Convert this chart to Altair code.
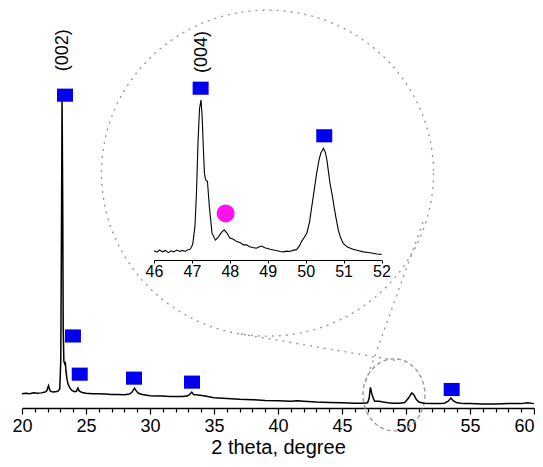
import altair as alt
import pandas as pd

FONT = "Liberation Sans"
BLUE = "#0000ee"
MAGENTA = "#ff10ee"
GREY = "#9a9a9a"

# ---------------- main XRD pattern (2theta, intensity a.u.) ----------------
main_deg = [20.0, 20.3, 20.6, 20.9, 21.2, 21.5, 21.8, 21.95, 22.07, 22.2, 22.4, 22.6, 22.8,
            22.95, 23.03, 23.08, 23.13, 23.18, 23.22, 23.27, 23.33, 23.38, 23.43, 23.5, 23.6,
            23.75, 23.9, 24.1, 24.25, 24.37, 24.48, 24.7, 25.0, 25.5, 26.0, 26.5, 27.0, 27.5,
            28.0, 28.4, 28.6, 28.79, 28.95, 29.1, 29.4, 30.0, 30.5, 31.0, 31.5, 32.0, 32.5,
            32.9, 33.1, 33.26, 33.4, 33.6, 33.9, 34.2, 34.5, 35.0, 36.0, 37.0, 38.0, 39.0,
            40.0, 41.0, 41.5, 42.0, 43.0, 44.0, 45.0, 46.0, 46.7, 47.0, 47.12, 47.22, 47.3,
            47.4, 47.55, 47.9, 48.2, 48.6, 49.0, 49.5, 49.9, 50.2, 50.45, 50.6, 50.8, 51.0,
            51.4, 52.0, 52.6, 53.0, 53.3, 53.5, 53.7, 54.0, 54.5, 55.0, 56.0, 57.0, 58.0,
            59.0, 59.5, 60.0]
main_int = [36, 37, 36, 38, 37, 38, 40, 44, 56, 43, 40, 41, 42,
            48, 120, 420, 776, 520, 200, 118, 112, 116, 95, 75, 60,
            50, 44, 41, 42, 50, 42, 39, 37, 36, 36, 35, 34, 34,
            33, 35, 40, 50, 42, 37, 34, 31, 30, 30, 29, 29, 29,
            30, 34, 40, 34, 33, 32, 31, 29, 26, 24, 22, 21, 19,
            18, 17, 18, 17, 15, 14, 13, 12, 12, 13, 25, 52, 40,
            28, 17, 17, 15, 13, 12, 12, 14, 25, 38, 34, 22, 15,
            12, 11, 11, 12, 17, 25, 18, 13, 11, 11, 10, 10, 11,
            11, 13, 11]

# ---------------- inset (46-52 degree, magnified) ----------------
inset_deg = [46.00, 46.08, 46.15, 46.22, 46.30, 46.38, 46.45, 46.52, 46.60, 46.68, 46.75,
             46.82, 46.90, 46.96, 47.02, 47.08, 47.12, 47.16, 47.20, 47.24, 47.27, 47.30,
             47.33, 47.36, 47.41, 47.46, 47.53, 47.62, 47.70, 47.78, 47.85, 47.92, 48.00,
             48.08, 48.18, 48.28, 48.36, 48.44, 48.52, 48.60, 48.70, 48.78, 48.84, 48.92,
             49.00, 49.06, 49.15, 49.25, 49.33, 49.41, 49.50, 49.58, 49.66, 49.76, 49.84,
             49.89, 49.96, 50.03, 50.10, 50.16, 50.22, 50.29, 50.35, 50.40, 50.47, 50.52,
             50.56, 50.60, 50.64, 50.70, 50.75, 50.80, 50.86, 50.92, 50.99, 51.10, 51.25,
             51.40, 51.52, 51.65, 51.78, 51.88, 52.00]
inset_int = [11.8, 11.4, 12.0, 11.5, 11.9, 11.3, 11.8, 11.5, 12.0, 11.6, 11.9,
             11.6, 12.1, 12.3, 13.5, 18.4, 27.6, 41.2, 50.5, 53.0, 48.5, 40.2,
             33.0, 31.2, 30.7, 23.8, 16.6, 14.7, 15.6, 16.8, 17.5, 16.7, 15.3,
             15.0, 14.3, 14.0, 13.4, 13.4, 12.9, 12.7, 12.5, 12.9, 13.1, 12.6,
             12.4, 12.2, 12.0, 11.8, 11.6, 11.5, 11.7, 11.6, 11.9, 12.1, 13.2,
             14.3, 15.4, 16.6, 19.5, 23.8, 28.0, 33.0, 36.5, 38.5, 39.8, 38.6,
             36.6, 33.5, 30.3, 27.0, 23.8, 20.8, 17.5, 15.4, 13.8, 12.8, 12.2,
             11.8, 11.5, 11.3, 11.1, 10.9, 10.8]

# ---------------- phase markers ----------------
sq_deg = [23.36, 23.98, 24.51, 28.75, 33.28, 53.57]
sq_int = [786, 181, 85, 75, 65, 46.5]
inset_sq_deg = [47.23, 50.49]
inset_sq_int = [56.2, 43.2]
inset_dot_deg = [47.89]
inset_dot_int = [22.0]

# ---------------- peak labels ----------------
lab_main_text = ["(002)"]
lab_main_deg = [23.20]
lab_main_int = [899]
lab_inset_text = ["(004)"]
lab_inset_deg = [47.27]
lab_inset_int = [66.1]

# ---------------- magnifier decoration (main data coords) ----------------
big_ring_deg, big_ring_int = [39.18], [590]
small_ring_deg, small_ring_int = [49.06], [33]
seg_x1 = [37.11, 51.33]
seg_y1 = [186, 467]
seg_x2 = [49.49, 46.72]
seg_y2 = [118, 55]

# ---------------- scales ----------------
W, H = 512, 398
xs_main = alt.Scale(domain=[20, 60], nice=False, zero=False)
ys_main = alt.Scale(domain=[0, 1000], nice=False, zero=False)
xs_in = alt.Scale(domain=[46, 52], nice=False, zero=False, range=[132, 359.5])
ys_in = alt.Scale(domain=[9, 55], nice=False, zero=False, range=[251.0, 82.6])


def ellipse_path(e):
    k = 0.5523
    return (f"M1,0 C1,{k*e:.4f} {k:.4f},{e:.4f} 0,{e:.4f} "
            f"C{-k:.4f},{e:.4f} -1,{k*e:.4f} -1,0 "
            f"C-1,{-k*e:.4f} {-k:.4f},{-e:.4f} 0,{-e:.4f} "
            f"C{k:.4f},{-e:.4f} 1,{-k*e:.4f} 1,0 Z")


RECT = "M-1,-0.82 L1,-0.82 L1,0.82 L-1,0.82 Z"

main_axis = alt.Axis(
    values=list(range(20, 61)),
    labelExpr="datum.value % 5 === 0 ? datum.label : ''",
    tickSize={"condition": {"test": "datum.value % 5 === 0", "value": 6}, "value": 4},
    labelAlign={"condition": {"test": "datum.value === 60", "value": "right"}, "value": "center"},
    orient="bottom", grid=False, domainColor="black", tickColor="black",
    domainWidth=1.3, tickWidth=1.2, labelFont=FONT, labelFontSize=18,
    labelColor="black", labelPadding=3, labelFlush=False, labelOverlap=False,
    title="2 theta, degree", titleFont=FONT, titleFontSize=20,
    titleFontWeight="normal", titleColor="black", titlePadding=2,
)
inset_axis = alt.Axis(
    values=[46 + 0.5 * i for i in range(13)],
    format="d",
    labelExpr="datum.value % 1 === 0 ? datum.label : ''",
    tickSize={"condition": {"test": "datum.value % 1 === 0", "value": 3}, "value": 2},
    orient="bottom", offset=-148, grid=False, domainColor="black", tickColor="black",
    domainWidth=1, tickWidth=1, labelFont=FONT, labelFontSize=16,
    labelColor="black", labelPadding=0, labelFlush=False, labelOverlap=False, title=None,
)

main_df = pd.DataFrame({"deg": main_deg, "int": main_int})
inset_df = pd.DataFrame({"deg": inset_deg, "int": inset_int})
sq_df = pd.DataFrame({"deg": sq_deg, "int": sq_int})
isq_df = pd.DataFrame({"deg": inset_sq_deg, "int": inset_sq_int})
dot_df = pd.DataFrame({"deg": inset_dot_deg, "int": inset_dot_int})
lm_df = pd.DataFrame({"t": lab_main_text, "deg": lab_main_deg, "int": lab_main_int})
li_df = pd.DataFrame({"t": lab_inset_text, "deg": lab_inset_deg, "int": lab_inset_int})
big_df = pd.DataFrame({"deg": big_ring_deg, "int": big_ring_int})
small_df = pd.DataFrame({"deg": small_ring_deg, "int": small_ring_int})
seg_df = pd.DataFrame({"x1": seg_x1, "y1": seg_y1, "x2": seg_x2, "y2": seg_y2})


def mx(axis=None):
    return alt.X("deg:Q", scale=xs_main, axis=axis)


def my():
    return alt.Y("int:Q", scale=ys_main, axis=None)


def ix(axis=None):
    return alt.X("deg:Q", scale=xs_in, axis=axis)


def iy():
    return alt.Y("int:Q", scale=ys_in, axis=None)


big_ring = alt.Chart(big_df).mark_point(
    shape=ellipse_path(163 / 166), size=332 ** 2, filled=False, color=GREY,
    strokeWidth=1.4, strokeDash=[2, 5], opacity=1
).encode(x=mx(), y=my())

small_ring = alt.Chart(small_df).mark_point(
    shape=ellipse_path(36 / 31), size=62 ** 2, filled=False, color=GREY,
    strokeWidth=1.4, strokeDash=[4, 3], opacity=1
).encode(x=mx(), y=my())

segs = alt.Chart(seg_df).mark_rule(color=GREY, strokeWidth=1.4, strokeDash=[2, 5]).encode(
    x=alt.X("x1:Q", scale=xs_main, axis=None), x2="x2:Q",
    y=alt.Y("y1:Q", scale=ys_main, axis=None), y2="y2:Q",
)

curve = alt.Chart(main_df).mark_line(color="black", strokeWidth=1.5).encode(
    x=mx(main_axis), y=my())

squares = alt.Chart(sq_df).mark_point(
    shape=RECT, size=256, filled=True, color=BLUE, opacity=1
).encode(x=mx(), y=my())

lab_main = alt.Chart(lm_df).mark_text(
    angle=270, font=FONT, fontSize=18, color="black", align="center", baseline="middle"
).encode(x=mx(), y=my(), text="t:N")

inset_curve = alt.Chart(inset_df).mark_line(color="black", strokeWidth=1.1).encode(
    x=ix(inset_axis), y=iy())

inset_sq = alt.Chart(isq_df).mark_point(
    shape=RECT, size=256, filled=True, color=BLUE, opacity=1
).encode(x=ix(), y=iy())

inset_dot = alt.Chart(dot_df).mark_point(
    shape="circle", size=324, filled=True, color=MAGENTA, opacity=1
).encode(x=ix(), y=iy())

lab_inset = alt.Chart(li_df).mark_text(
    angle=270, font=FONT, fontSize=18, color="black", align="center", baseline="middle"
).encode(x=ix(), y=iy(), text="t:N")

chart = alt.layer(
    big_ring, small_ring, segs, curve, squares, lab_main,
    inset_curve, inset_sq, inset_dot, lab_inset,
).resolve_scale(x="independent", y="independent").properties(
    width=W, height=H,
    autosize=alt.AutoSizeParams(type="none"),
    padding={"left": 14, "top": 2, "right": 1, "bottom": 50},
    background="white",
).configure_view(stroke=None)

chart.save("out.html", embed_options={"renderer": "svg", "actions": False})
